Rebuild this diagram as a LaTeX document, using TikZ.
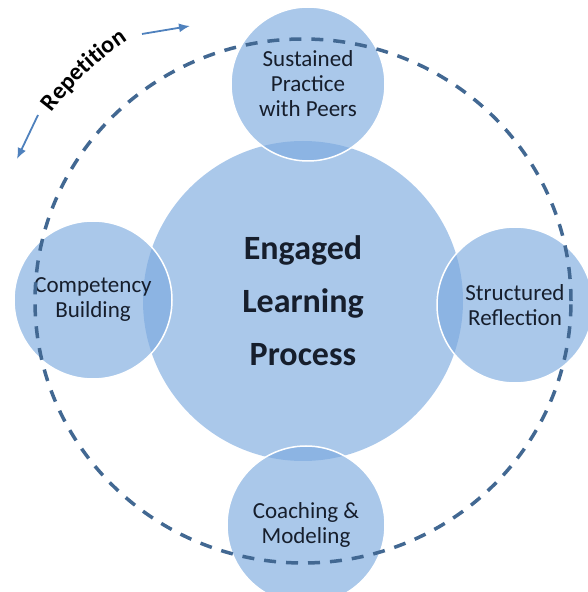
\documentclass[tikz,border=0pt]{standalone}
\usepackage{fontspec}
\setmainfont{Carlito}
\usepackage{xcolor}
\usetikzlibrary{calc,decorations.text,arrows.meta}

\definecolor{burbuja}{RGB}{124,170,223}
\definecolor{trazo}{RGB}{66,104,146}
\definecolor{flecha}{RGB}{79,129,189}
\definecolor{texto}{RGB}{22,30,44}

\begin{document}
\begin{tikzpicture}[x=1pt,y=1pt,>={Latex[length=11pt,width=9pt]},
  burbuja/.style={circle,inner sep=0pt,fill=burbuja,fill opacity=0.65,
    text opacity=1,text=texto,align=center,
    font=\fontsize{23}{25}\selectfont},
  satelite/.style={burbuja,draw=white,line width=1.5pt,draw opacity=1}]

  % Ventana del dibujo
  \useasboundingbox (0,0) rectangle (588,592);
  \coordinate (ctr) at (303,291);

  % Circulo central
  \node[burbuja,minimum size=320pt,font=\fontsize{34}{53}\selectfont\bfseries]
    (proceso) at (ctr) {Engaged\\Learning\\Process};

  % Circulos satelite
  \node[satelite,minimum size=154pt] (practica) at (308,508) {Sustained\\Practice\\with Peers};
  \node[satelite,minimum size=158pt] (competencia) at (93,292) {Competency\\Building};
  \node[satelite,minimum size=156pt] (reflexion) at (515,287) {Structured\\Reflection};
  \node[satelite,minimum size=158pt] (coaching) at (306,67) {Coaching \&\\Modeling};

  % Ciclo discontinuo
  \draw[trazo,line width=3.5pt,dash pattern=on 12pt off 10pt]
    (ctr) ellipse [x radius=268,y radius=262];

  % Etiqueta de repeticion sobre un arco
  \path[decorate,decoration={text along path,text align=center,
      text={|\fontsize{24}{24}\selectfont\bfseries|Repetition}}]
    ($(ctr)+(152:314)$) arc[start angle=152,end angle=115,radius=314];

  % Flechas de repeticion
  \coordinate (r1a) at (142,558);
  \coordinate (r1b) at (190,566);
  \coordinate (r2a) at (38,477);
  \coordinate (r2b) at (17,433);
  \draw[->,flecha,line width=1.8pt] (r1a) -- (r1b);
  \draw[->,flecha,line width=1.8pt] (r2a) -- (r2b);

\end{tikzpicture}
\end{document}
